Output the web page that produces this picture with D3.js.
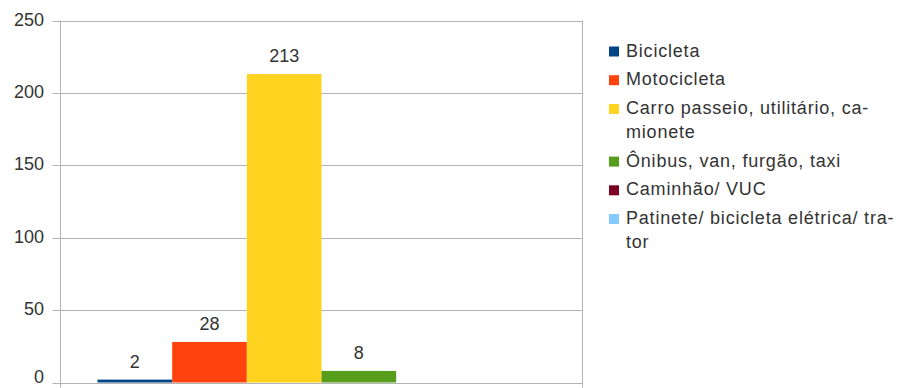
<!DOCTYPE html>
<html>
<head>
<meta charset="utf-8">
<script src="https://cdn.jsdelivr.net/npm/d3@7"></script>
<style>
    body { margin: 0; background: #fff; }
    svg { display: block; font-family: "Liberation Sans", Arial, sans-serif; }
</style>
</head>
<body>
<div id="chart"></div>
<script>
// series shown in the legend, one bar each (single category)
const seriesNames = [
    ["Bicicleta"],
    ["Motocicleta"],
    ["Carro passeio, utilitário, ca-", "mionete"],
    ["Ônibus, van, furgão, taxi"],
    ["Caminhão/ VUC"],
    ["Patinete/ bicicleta elétrica/ tra-", "tor"]
];
const seriesValues = [2, 28, 213, 8, null, null];
const seriesColors = ["#004586", "#ff420e", "#ffd320", "#579d1c", "#7e0021", "#83caff"];
const yTicks = [0, 50, 100, 150, 200, 250];

const width = 898, height = 388;
// plot area
const plot = { left: 60.5, right: 582.5, top: 20.5, bottom: 382.5 };

const svg = d3.select('#chart')
    .append('svg')
    .attr('width', width)
    .attr('height', height);

const y = d3.scaleLinear()
    .domain([0, 250])
    .range([plot.bottom, plot.top]);

// bars sit side by side inside the plot, leaving a margin each side
const x = d3.scaleBand()
    .domain(d3.range(seriesValues.length))
    .range([plot.left + 37, plot.right - 37])
    .padding(0);

// gridlines and tick marks
svg.append('g')
    .selectAll('line')
    .data(yTicks)
    .enter()
    .append('line')
    .attr('x1', plot.left - 8)
    .attr('x2', plot.right)
    .attr('y1', d => Math.round(y(d)) + 0.5)
    .attr('y2', d => Math.round(y(d)) + 0.5)
    .style('stroke', '#b3b3b3')
    .style('stroke-width', 1);

// left axis and right border
svg.append('g')
    .selectAll('line')
    .data([plot.left, plot.right])
    .enter()
    .append('line')
    .attr('x1', d => d)
    .attr('x2', d => d)
    .attr('y1', plot.top)
    .attr('y2', plot.bottom + 5)
    .style('stroke', '#b3b3b3')
    .style('stroke-width', 1);

// tick labels (bottom one nudged up so it stays inside the frame)
svg.append('g')
    .selectAll('text')
    .data(yTicks)
    .enter()
    .append('text')
    .attr('x', 44)
    .attr('y', d => Math.min(y(d) + 5, 383))
    .attr('text-anchor', 'end')
    .style('font-size', '18px')
    .style('fill', '#333')
    .text(d => d);

const barData = seriesValues
    .map((v, i) => ({ i, v }))
    .filter(d => d.v != null);

// bars
svg.append('g')
    .selectAll('rect')
    .data(barData)
    .enter()
    .append('rect')
    .attr('x', d => x(d.i))
    .attr('width', x.bandwidth())
    .attr('y', d => y(d.v))
    .attr('height', d => y(0) - y(d.v))
    .style('fill', d => seriesColors[d.i]);

// value labels
svg.append('g')
    .selectAll('text')
    .data(barData)
    .enter()
    .append('text')
    .attr('x', d => x(d.i) + x.bandwidth() / 2)
    .attr('y', d => y(d.v) - 12)
    .attr('text-anchor', 'middle')
    .style('font-size', '18px')
    .style('fill', '#333')
    .text(d => d.v);

// legend
const legend = svg.append('g');
let baseY = 56.5;
seriesNames.forEach((lines, i) => {
    legend.append('rect')
        .attr('x', 609)
        .attr('y', baseY - 10)
        .attr('width', 10)
        .attr('height', 10)
        .style('fill', seriesColors[i]);
    lines.forEach((line, j) => {
        legend.append('text')
            .attr('x', 626)
            .attr('y', baseY + j * 24)
            .style('font-size', '18px')
            .style('letter-spacing', '0.8px')
            .style('fill', '#333')
            .text(line);
    });
    baseY += lines.length * 24 + 4.7;
});
</script>
</body>
</html>
